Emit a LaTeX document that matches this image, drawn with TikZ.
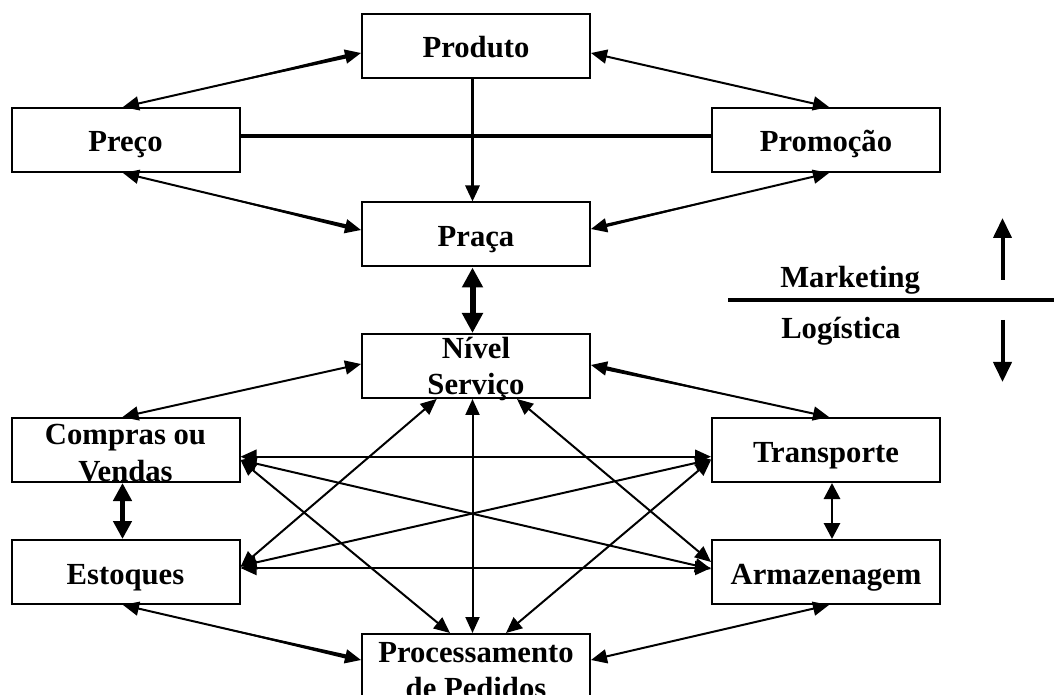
\documentclass[tikz,border=0pt]{standalone}
\usepackage{fontspec}
\setmainfont{Liberation Serif}
\usetikzlibrary{arrows.meta,calc}

\newcommand\boxfont{\fontsize{23}{27}\selectfont\bfseries}
% thin line widening towards its second end (stops inside the arrow head)
\newcommand\wedgeline[3]{%
  \coordinate (wedgeEnd) at ($(#2)!10pt!(#1)$);
  \fill ($(#1)!0.25!(#2)$) -- ($(wedgeEnd)!#3!90:(#1)$) -- ($(wedgeEnd)!#3!-90:(#1)$) -- cycle;}

\begin{document}
\begin{tikzpicture}[x=0.75pt,y=-0.75pt,
  >={Triangle[length=12pt,width=10.5pt]},
  box/.style={draw, line width=1.5pt, minimum width=171pt, minimum height=48pt,
    inner sep=0pt, font=\boxfont, text height=18pt, text depth=0pt},
  txt/.style={font=\boxfont, inner sep=0pt, anchor=base},
  link/.style={line width=1.5pt, <->},
  bold link/.style={line width=4.5pt, {Triangle[length=15pt,width=15pt]}-{Triangle[length=15pt,width=15pt]}},
  heavy link/.style={line width=3.8pt, {Triangle[length=13.5pt,width=13.5pt]}-{Triangle[length=13.5pt,width=13.5pt]}},
  mid link/.style={line width=2.2pt, {Triangle[length=12pt,width=12pt]}-{Triangle[length=12pt,width=12pt]}},
  legend arrow/.style={line width=3pt, -{Triangle[length=15pt,width=13.5pt]}}]

\useasboundingbox (0,0) rectangle (1054,695);
\clip (0,0) rectangle (1054,695);

% ---- boxes ----
\node[box] (prod)    at (476,46)    {Produto};
\node[box] (preco)   at (125.5,140) {Preço};
\node[box] (promo)   at (826,140)   {Promoção};
\node[box] (praca)   at (476,234.5) {Praça};
\node[box] (nivel)   at (476,366)   {};
\node[box] (compras) at (125.5,450) {};
\node[box] (transp)  at (826,450)   {Transporte};
\node[box] (estoq)   at (125.5,572) {Estoques};
\node[box] (armaz)   at (826,572)   {Armazenagem};
\node[box] (proc)    at (476,666)   {};

% two-line labels
\node[txt] (nivelA)   at ($(nivel.center)+(0,-7)$)   {Nível};
\node[txt] (nivelB)   at ($(nivel.center)+(0,29)$)   {Serviço};
\node[txt] (comprasA) at ($(compras.center)+(0,-5)$) {Compras ou};
\node[txt] (comprasB) at ($(compras.center)+(0,31)$) {Vendas};
\node[txt] (procA)    at ($(proc.center)+(0,-4)$)    {Processamento};
\node[txt] (procB)    at ($(proc.center)+(0,32)$)    {de Pedidos};

% ---- marketing mix ----
\draw[link] ($(preco.north)+(-2.5,0)$) coordinate (pp1) -- ($(prod.west)+(0,7)$) coordinate (pp2);
\wedgeline{pp1}{pp2}{1.6pt}
\draw[link] ($(prod.east)+(0,7)$) -- ($(promo.north)+(3,0)$);
\draw[line width=2.2pt, ->] ($(prod.south)+(-3.5,0)$) -- ($(praca.north)+(-3.5,0)$);
\draw[line width=3pt] ($(preco.east)+(0,-4)$) -- ($(promo.west)+(0,-4)$);
\draw[link] ($(preco.south)+(-2.5,0)$) coordinate (pq1) -- ($(praca.west)+(0,-4.5)$) coordinate (pq2);
\wedgeline{pq1}{pq2}{1.6pt}
\draw[link] ($(promo.south)+(3,0)$) coordinate (pr1) -- ($(praca.east)+(0,-5.5)$) coordinate (pr2);
\wedgeline{pr1}{pr2}{1.3pt}

% ---- marketing / logistics interface ----
\draw[bold link] ($(praca.south)+(-3.5,0)$) -- ($(nivel.north)+(-3.5,0)$);

% ---- logistics ----
\draw[link] ($(nivel.west)+(0,-2)$) -- ($(compras.north)+(-3,0)$);
\draw[link] ($(transp.north)+(3,0)$) coordinate (nt1) -- ($(nivel.east)+(0,-1)$) coordinate (nt2);
\wedgeline{nt1}{nt2}{1.6pt}
\draw[heavy link] ($(compras.south)+(-3,0)$) -- ($(estoq.north)+(-3,0)$);
\draw[mid link] ($(transp.south)+(6,0)$) -- ($(armaz.north)+(6,0)$);
\draw[link] ($(estoq.south)+(-2.5,0)$) coordinate (ep1) -- ($(proc.west)+(0,-6)$) coordinate (ep2);
\wedgeline{ep1}{ep2}{1.6pt}
\draw[link] ($(armaz.south)+(3,0)$) -- ($(proc.east)+(0,-6)$);

% cross links
\draw[link] ($(compras.east)+(0,6.7)$) -- ($(transp.west)+(0,6.7)$);
\draw[link] ($(estoq.east)+(0,-4)$) -- ($(armaz.west)+(0,-4)$);
\draw[link] ($(compras.east)+(0,10)$) -- ($(armaz.west)+(0,-3)$);
\draw[link] ($(estoq.east)+(0,-6)$) -- ($(transp.west)+(0,9.5)$);
\draw[link] ($(nivel.south)+(-39.3,0)$) -- ($(estoq.east)+(0,-5)$);
\draw[link] ($(nivel.south)+(-3.5,0)$) -- ($(proc.north)+(-3.5,0)$);
\draw[link] ($(nivel.south)+(41,0)$) -- ($(armaz.west)+(0,-10)$);
\draw[link] ($(compras.east)+(0,10)$) -- ($(proc.north)+(-26,0)$);
\draw[link] ($(transp.west)+(0,10)$) -- ($(proc.north)+(30,0)$);

% ---- legend ----
\coordinate (divL) at (728,300.5);
\coordinate (divR) at (1054,300.5);
\draw[line width=3pt] (divL) -- (divR);
\node[txt, anchor=base west] (mkt) at (780,288) {Marketing};
\node[txt, anchor=base west] (log) at (781,339) {Logística};
\coordinate (upTail) at (1002.5,280);
\coordinate (upTip)  at (1002.5,218);
\draw[legend arrow] (upTail) -- (upTip);
\coordinate (downTail) at (1002.5,320);
\coordinate (downTip)  at (1002.5,382);
\draw[legend arrow] (downTail) -- (downTip);
\end{tikzpicture}
\end{document}
